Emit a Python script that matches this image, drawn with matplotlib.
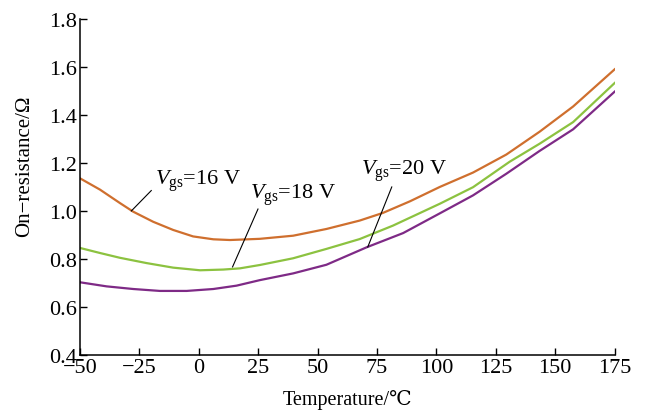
import matplotlib
matplotlib.use("Agg")
import matplotlib.pyplot as plt

# Temperature (°C) and on-resistance (Ω)
T_16 = [-50, -41.6, -33.2, -27.6, -19.2, -10.8, -2.4, 6.1, 13.1, 25.7, 39.7, 53.7,
        67.7, 77.5, 88.8, 101.4, 115.4, 129.4, 143.4, 157.5, 175]
R_16 = [1.136, 1.089, 1.033, 0.997, 0.955, 0.921, 0.894, 0.882, 0.879, 0.884, 0.897, 0.925,
        0.960, 0.992, 1.040, 1.100, 1.160, 1.235, 1.330, 1.435, 1.590]

T_18 = [-50, -41.6, -33.2, -22, -10.8, 0.5, 10.3, 17.3, 25.7, 39.7, 53.7, 67.7,
        81.7, 101.4, 115.4, 130.8, 143.4, 157.5, 175]
R_18 = [0.846, 0.825, 0.805, 0.783, 0.764, 0.753, 0.756, 0.761, 0.775, 0.803, 0.842, 0.883,
        0.939, 1.030, 1.099, 1.205, 1.280, 1.370, 1.533]

T_20 = [-50, -38.8, -27.6, -16.4, -5.1, 6.1, 15.9, 25.7, 39.7, 53.7, 70.7, 86,
        101.4, 115.4, 129.4, 143.4, 157.5, 175]
R_20 = [0.703, 0.686, 0.675, 0.667, 0.667, 0.675, 0.689, 0.712, 0.740, 0.776, 0.849, 0.908,
        0.990, 1.065, 1.155, 1.250, 1.340, 1.497]

X_TICKS = [-50, -25, 0, 25, 50, 75, 100, 125, 150, 175]
Y_TICKS = [0.4, 0.6, 0.8, 1.0, 1.2, 1.4, 1.6, 1.8]

ORANGE = "#CF6F2E"
GREEN = "#8CC240"
PURPLE = "#7E2A86"

plt.rcParams["font.family"] = ["Liberation Serif", "DejaVu Serif", "Noto Sans CJK SC"]
plt.rcParams["mathtext.fontset"] = "custom"
plt.rcParams["mathtext.rm"] = "Liberation Serif"
plt.rcParams["mathtext.it"] = "Liberation Serif:italic"

fig = plt.figure(figsize=(6.45, 4.14), dpi=100)
ax = fig.add_axes([0.124, 0.14, 0.829, 0.812])

ax.plot(T_16, R_16, color=ORANGE, lw=1.6)
ax.plot(T_18, R_18, color=GREEN, lw=1.6)
ax.plot(T_20, R_20, color=PURPLE, lw=1.6)

# labels with pointer lines
ax.text(-18.5, 1.126, r"$V_{\mathrm{gs}}$=16 V", fontsize=16, ha="left", va="center")
ax.plot([-28.4, -20.0], [1.0, 1.085], color="black", lw=0.8)
ax.text(21.5, 1.07, r"$V_{\mathrm{gs}}$=18 V", fontsize=16, ha="left", va="center")
ax.plot([14.2, 24.9], [0.767, 1.008], color="black", lw=0.8)
ax.text(68.4, 1.168, r"$V_{\mathrm{gs}}$=20 V", fontsize=16, ha="left", va="center")
ax.plot([71.1, 81.2], [0.85, 1.10], color="black", lw=0.8)

ax.set_xlim(-50, 175)
ax.set_ylim(0.4, 1.8)
ax.set_xticks(X_TICKS)
ax.set_yticks(Y_TICKS)
ax.set_yticklabels([f"{v:.1f}" for v in Y_TICKS])
ax.tick_params(direction="in", length=5, width=1, labelsize=16, pad=2)
ax.spines["top"].set_visible(False)
ax.spines["right"].set_visible(False)
for s in ("left", "bottom"):
    ax.spines[s].set_linewidth(1.1)

ax.set_xlabel("Temperature/℃", fontsize=14.5, labelpad=9)
ax.set_ylabel("On−resistance/Ω", fontsize=15)
ax.yaxis.set_label_coords(-0.085, 0.565)

fig.savefig("out.png", dpi=100)
